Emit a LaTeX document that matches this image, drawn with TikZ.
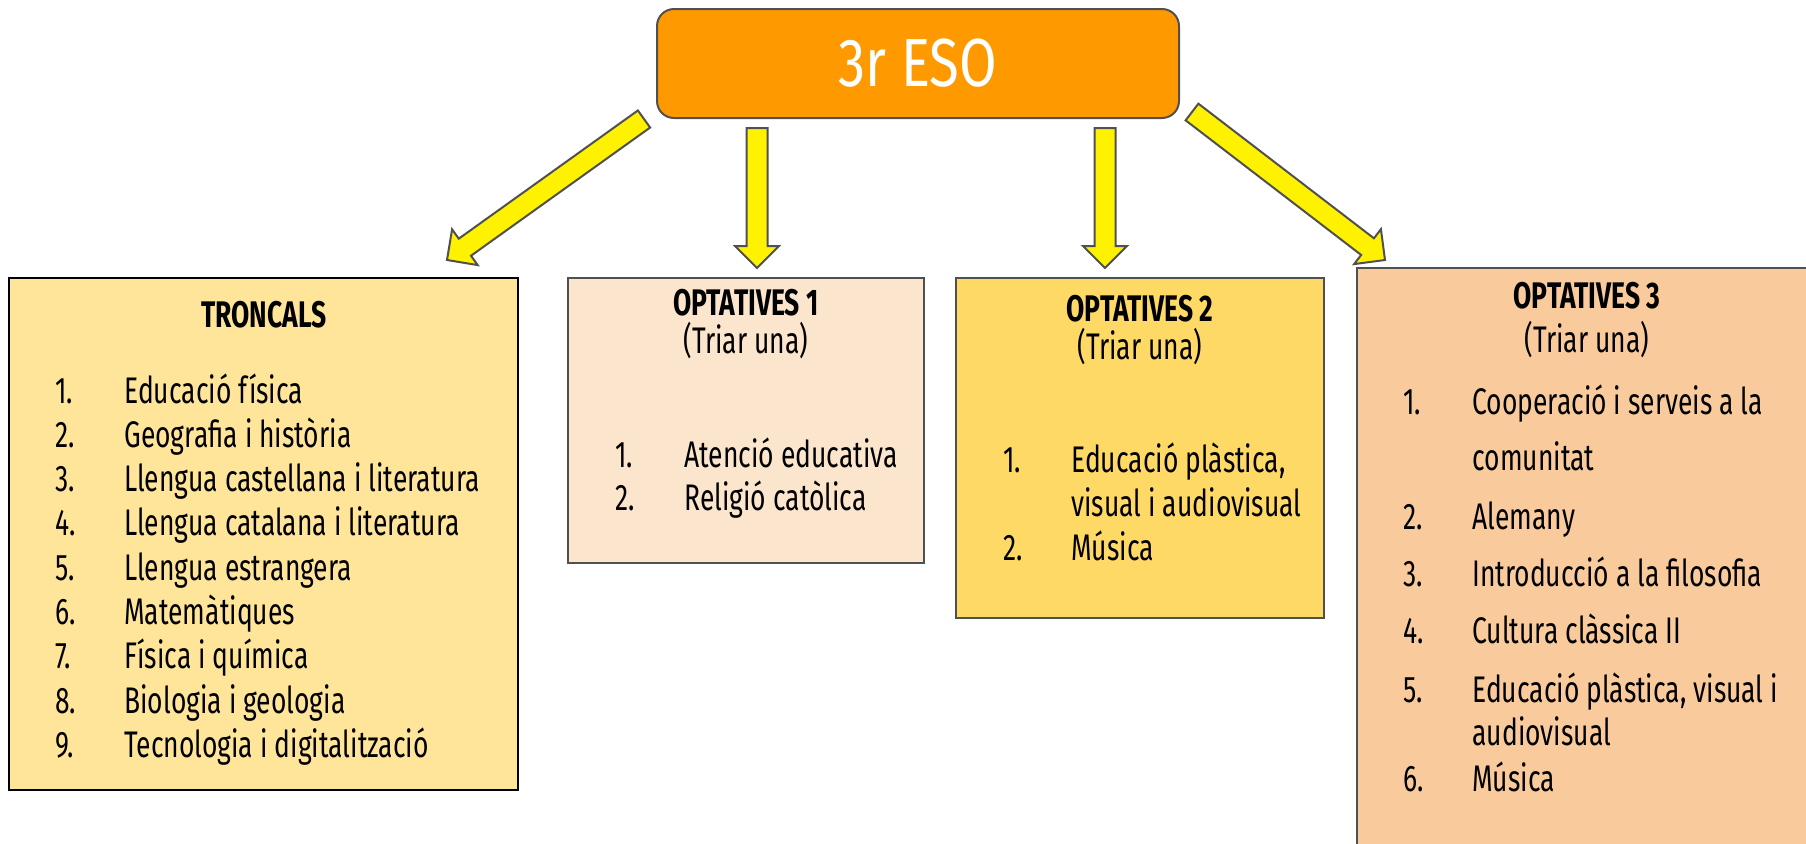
\documentclass[tikz,border=0pt]{standalone}
\usepackage{fontspec}
\setmainfont[FakeStretch=0.715]{Fira Sans}
\newfontfamily\esofont[FakeStretch=0.8]{Fira Sans}
\usetikzlibrary{calc}
\definecolor{esoorange}{HTML}{FF9900}
\definecolor{troncfill}{HTML}{FFE599}
\definecolor{optafill}{HTML}{FCE5CD}
\definecolor{optbfill}{HTML}{FFD966}
\definecolor{optcfill}{HTML}{F9CB9C}
\definecolor{edgegray}{HTML}{505050}
\newcommand{\fatarrow}[2]{%
  \coordinate (#1#2) at ($(#2)!11pt!(#1)$);
  \draw[fatarrow] ($(#1)!5.25pt!90:(#2)$) -- ($(#1#2)!5.25pt!90:(#2)$)
    -- ($(#1#2)!11pt!90:(#2)$) -- (#2) -- ($(#1#2)!11pt!-90:(#2)$)
    -- ($(#1#2)!5.25pt!-90:(#2)$) -- ($(#1)!5.25pt!-90:(#2)$) -- cycle;}
\begin{document}
\begin{tikzpicture}[
        x=0.5pt, y=-0.5pt,
        box/.style={draw=edgegray, line width=1pt, inner sep=0pt, outer sep=0pt, anchor=north west},
        fatarrow/.style={draw=edgegray, fill=yellow, line width=1pt, line join=miter},
        title/.style={font=\bfseries\fontsize{18.5}{22}\selectfont, inner sep=0pt, anchor=base},
        sub/.style={font=\fontsize{18.5}{22}\selectfont, inner sep=0pt, anchor=base},
        item/.style={font=\fontsize{18.5}{22}\selectfont, inner sep=0pt, anchor=base west}
      ]
      \useasboundingbox (0,0) rectangle (1806,843);
      \clip (0,0) rectangle (1806,843);
      \node[box, fill=esoorange, rounded corners=8.5pt, minimum width=261pt, minimum height=54.5pt,
            text=white, font=\esofont\fontsize{34}{40}\selectfont] (eso) at (657,9) {3r ESO};
      \node[box, draw=black, fill=troncfill, minimum width=254.5pt, minimum height=256pt] (troncals) at (9,278) {};
      \node[box, fill=optafill, minimum width=178pt, minimum height=142.5pt] (opt1) at (568,278) {};
      \node[box, fill=optbfill, minimum width=184pt, minimum height=170pt] (opt2) at (956,278) {};
      \node[box, fill=optcfill, minimum width=231.5pt, minimum height=296pt] (opt3) at (1357,268) {};
      \coordinate (a1) at (644,119);  \coordinate (b1) at (447,260);
      \coordinate (a2) at (757,128);  \coordinate (b2) at (757,268);
      \coordinate (a3) at (1105,128); \coordinate (b3) at (1105,268);
      \coordinate (a4) at (1192,112); \coordinate (b4) at (1385,260);
      \fatarrow{a1}{b1}
      \fatarrow{a2}{b2}
      \fatarrow{a3}{b3}
      \fatarrow{a4}{b4}
      % troncals
      \node[title] (troncals-title) at (264,327) {TRONCALS};
      \foreach \t [count=\i] in {Educació física, Geografia i història,
          Llengua castellana i literatura, Llengua catalana i literatura,
          Llengua estrangera, Matemàtiques, Física i química,
          Biologia i geologia, Tecnologia i digitalització} {
        \node[item] (tn\i) at (55,{403+44.3*(\i-1)}) {\i.};
        \node[item] (tt\i) at (124,{403+44.3*(\i-1)}) {\t};
      }
      % optatives 1
      \node[title] (opt1-title) at (746,315) {OPTATIVES 1};
      \node[sub] (opt1-sub) at (746,353) {(Triar una)};
      \node[item] (o1n1) at (615,467) {1.};
      \node[item] (o1t1) at (684,467) {Atenció educativa};
      \node[item] (o1n2) at (615,510) {2.};
      \node[item] (o1t2) at (684,510) {Religió catòlica};
      % optatives 2
      \node[title] (opt2-title) at (1140,321) {OPTATIVES 2};
      \node[sub] (opt2-sub) at (1140,359) {(Triar una)};
      \node[item] (o2n1) at (1003,472) {1.};
      \node[item] (o2t1) at (1071,472) {Educació plàstica,};
      \node[item] (o2t1b) at (1071,516) {visual i audiovisual};
      \node[item] (o2n2) at (1003,560) {2.};
      \node[item] (o2t2) at (1071,560) {Música};
      % optatives 3
      \node[title] (opt3-title) at (1587,308) {OPTATIVES 3};
      \node[sub] (opt3-sub) at (1587,352) {(Triar una)};
      \node[item] (o3n1) at (1403,414) {1.};
      \node[item] (o3t1) at (1472,414) {Cooperació i serveis a la};
      \node[item] (o3t1b) at (1472,470) {comunitat};
      \node[item] (o3n2) at (1403,529) {2.};
      \node[item] (o3t2) at (1472,529) {Alemany};
      \node[item] (o3n3) at (1403,586) {3.};
      \node[item] (o3t3) at (1472,586) {Introducció a la filosofia};
      \node[item] (o3n4) at (1403,643) {4.};
      \node[item] (o3t4) at (1472,643) {Cultura clàssica II};
      \node[item] (o3n5) at (1403,702) {5.};
      \node[item] (o3t5) at (1472,702) {Educació plàstica, visual i};
      \node[item] (o3t5b) at (1472,745) {audiovisual};
      \node[item] (o3n6) at (1403,791) {6.};
      \node[item] (o3t6) at (1472,791) {Música};
\end{tikzpicture}
\end{document}
